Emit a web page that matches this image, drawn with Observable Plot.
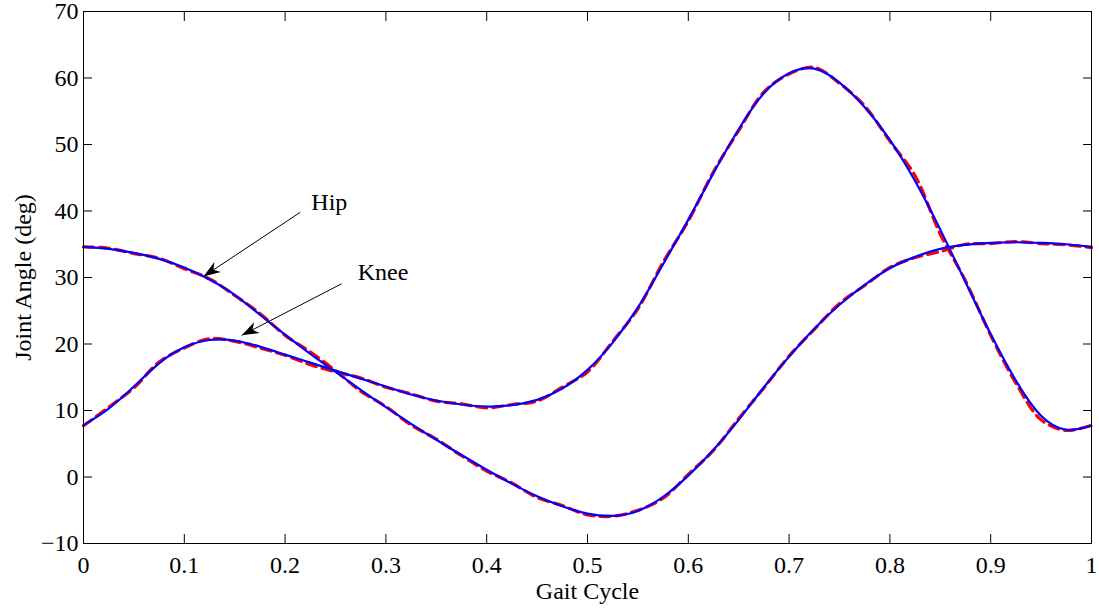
<!DOCTYPE html>
<html><head><meta charset="utf-8">
<script src="https://cdn.jsdelivr.net/npm/d3@7"></script>
<script src="https://cdn.jsdelivr.net/npm/@observablehq/plot@0.6"></script>
<style>html,body{margin:0;padding:0;background:#fff;}</style>
</head><body><div id="chart"></div>
<script>
const gaitCycle = [0,0.025,0.05,0.075,0.1,0.125,0.15,0.175,0.2,0.225,0.25,0.275,0.3,0.325,0.35,0.375,0.4,0.425,0.45,0.475,0.5,0.525,0.55,0.575,0.6,0.625,0.65,0.675,0.7,0.725,0.75,0.775,0.8,0.825,0.85,0.875,0.9,0.925,0.95,0.975,1];
const hipFit = [34.6,34.3,33.7,32.8,31.5,29.7,27.4,24.4,21.4,18.5,15.8,13.1,10.5,8.0,5.6,3.3,1.1,-1.0,-2.9,-4.4,-5.5,-5.85,-5.1,-3.0,0.2,4.1,8.6,13.5,18.1,22.3,25.9,28.9,31.4,33.1,34.3,34.9,35.2,35.3,35.2,35.0,34.6];
const hipMeasured = [34.6,34.4,33.6,32.9,31.3,29.8,27.3,24.6,21.3,18.8,16.0,12.9,10.6,7.8,5.7,3.2,0.9,-0.9,-3.1,-4.3,-5.7,-5.9,-5.0,-3.2,0.4,4.0,8.8,13.4,18.2,22.2,26.1,28.8,31.5,33.0,33.9,35.0,35.1,35.4,35.1,34.9,34.5];
const kneeFit = [7.8,10.3,13.6,17.1,19.5,20.6,20.5,19.6,18.4,17.2,16.0,14.8,13.6,12.4,11.5,10.9,10.6,10.8,11.6,13.3,16.1,20.2,25.5,32.0,38.7,45.7,52.3,57.7,60.7,61.4,59.3,55.6,50.7,44.5,37.2,29.3,21.5,14.5,9.2,7.1,7.7];
const kneeMeasured = [7.7,10.5,13.4,17.3,19.4,20.8,20.4,19.4,18.3,16.9,15.8,14.9,13.5,12.5,11.4,11.0,10.4,10.9,11.4,13.5,15.8,20.4,25.3,32.3,38.5,45.9,52.1,57.9,60.6,61.6,59.2,55.8,50.5,45.3,36.5,29.5,21.3,14.1,8.6,7.0,7.8];
const xTicks = [0,0.1,0.2,0.3,0.4,0.5,0.6,0.7,0.8,0.9,1];
const yTicks = [-10,0,10,20,30,40,50,60,70];
const annotLabels = ["Hip","Knee"];
const annotTextX = [0.226,0.272];
const annotTextY = [40.1,29.55];
const arrowFromX = [0.215,0.256];
const arrowFromY = [39.8,29.05];
const arrowToX = [0.119,0.157];
const arrowToY = [30.15,21.3];

const rows = [];
gaitCycle.forEach((g,i)=>{
  rows.push({g, v: hipMeasured[i], s:"Hip", k:"measured"});
  rows.push({g, v: kneeMeasured[i], s:"Knee", k:"measured"});
  rows.push({g, v: hipFit[i], s:"Hip", k:"fit"});
  rows.push({g, v: kneeFit[i], s:"Knee", k:"fit"});
});
const measured = rows.filter(d=>d.k==="measured");
const fit = rows.filter(d=>d.k==="fit");
const annots = annotLabels.map((label,i)=>({label, tx:annotTextX[i], ty:annotTextY[i], x1:arrowFromX[i], y1:arrowFromY[i], x2:arrowToX[i], y2:arrowToY[i]}));

const arrowHead = {draw(ctx){ ctx.moveTo(0,0); ctx.lineTo(-17,-6); ctx.lineTo(-12,0); ctx.lineTo(-17,6); ctx.closePath(); }};
const fmt = d => d < 0 ? "\u2212" + Math.abs(d) : String(d);

function makePlot(angles){
  return Plot.plot({
    width:1099, height:610, marginLeft:83, marginRight:8, marginTop:11, marginBottom:67,
    x:{domain:[0,1]}, y:{domain:[-10,70]},
    style:{fontFamily:"'Liberation Serif','Times New Roman',serif", fontSize:"24px", background:"white", color:"black", overflow:"visible"},
    marks:[
      Plot.axisX(xTicks, {anchor:"bottom", tickSize:-9, tickPadding:21, tickFormat:fmt, label:null}),
      Plot.axisX(xTicks, {anchor:"top", tickSize:-9, tickFormat:()=>"", label:null}),
      Plot.axisY(yTicks, {anchor:"left", tickSize:-9, tickPadding:14, tickFormat:fmt, label:null}),
      Plot.axisY(yTicks, {anchor:"right", tickSize:-9, tickFormat:()=>"", label:null}),
      Plot.line(measured, {x:"g", y:"v", z:"s", stroke:"#ff0000", strokeWidth:3.2, strokeDasharray:"10,6", curve:"catmull-rom"}),
      Plot.line(fit, {x:"g", y:"v", z:"s", stroke:"#0000ff", strokeWidth:2.2, curve:"natural"}),
      Plot.frame({stroke:"black", strokeWidth:1}),
      Plot.link(annots, {x1:"x1", y1:"y1", x2:"x2", y2:"y2", stroke:"black", strokeWidth:1}),
      Plot.dot(annots, {x:"x2", y:"y2", symbol:arrowHead, fill:"black", stroke:"none", rotate:(d,i)=>angles ? angles[i] : 0}),
      Plot.text(annots, {x:"tx", y:"ty", text:"label", textAnchor:"start", lineAnchor:"bottom"}),
      Plot.text(["Gait Cycle"], {frameAnchor:"bottom", dy:55, lineAnchor:"bottom"}),
      Plot.text(["Joint Angle (deg)"], {frameAnchor:"left", dx:-53, rotate:-90, textAnchor:"middle", lineAnchor:"bottom"})
    ]
  });
}
const p0 = makePlot(null);
const sx = p0.scale("x"), sy = p0.scale("y");
const angles = annots.map(d => Math.atan2(sy.apply(d.y2)-sy.apply(d.y1), sx.apply(d.x2)-sx.apply(d.x1))*180/Math.PI);
document.getElementById("chart").append(makePlot(angles));
</script>
</body></html>
